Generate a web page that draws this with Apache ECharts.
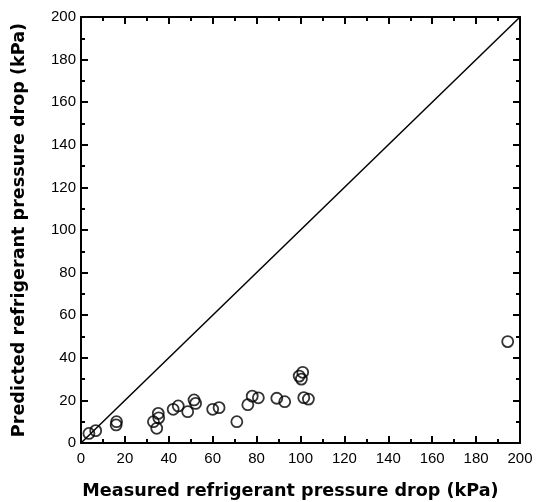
<!DOCTYPE html>
<html>
<head>
<meta charset="utf-8">
<script src="https://cdn.jsdelivr.net/npm/echarts@6/dist/echarts.min.js"></script>
<style>html,body{margin:0;padding:0;background:#fff}#c{width:536px;height:502px}</style>
</head>
<body>
<div id="c"></div>
<script>
var measured = [3.6, 6.7, 16.2, 16.0, 33.0, 34.5, 35.2, 35.4, 42.0, 44.3, 48.6, 51.5, 52.2, 60.0, 62.9, 71.0, 76.0, 78.0, 80.8, 89.2, 92.8, 99.4, 101.0, 100.4, 101.5, 103.6, 194.4];
var predicted = [4.5, 5.8, 10.0, 8.5, 10.0, 6.9, 13.9, 11.8, 15.8, 17.4, 14.7, 20.2, 18.6, 15.8, 16.6, 10.0, 18.0, 22.0, 21.2, 21.0, 19.4, 31.4, 33.2, 30.0, 21.3, 20.6, 47.6];
var xTicks = [0, 20, 40, 60, 80, 100, 120, 140, 160, 180, 200];
var yTicks = [0, 20, 40, 60, 80, 100, 120, 140, 160, 180, 200];
var diagonal = [[0, 0], [200, 200]];
var xTitle = 'Measured refrigerant pressure drop (kPa)';
var yTitle = 'Predicted refrigerant pressure drop (kPa)';

var pts = measured.map(function (m, i) { return [m, predicted[i]]; });
var font = "'Liberation Sans', Arial, sans-serif";
var titleFont = "'DejaVu Sans', sans-serif";

function axisBase(show, pos) {
  return {
    type: 'value', min: xTicks[0], max: xTicks[xTicks.length - 1], interval: 20,
    position: pos,
    axisLine: { show: true, onZero: false, lineStyle: { color: '#000', width: 2 } },
    axisTick: { show: true, inside: true, length: 7, lineStyle: { color: '#000', width: 2 } },
    minorTick: { show: true, splitNumber: 2, length: 4, lineStyle: { color: '#000', width: 2 } },
    splitLine: { show: false },
    axisLabel: { show: show, color: '#000', fontSize: 15, fontFamily: font }
  };
}

var xb = axisBase(true, 'bottom');
xb.axisLabel.margin = 8;
xb.name = xTitle; xb.nameLocation = 'middle'; xb.nameGap = 39;
xb.nameTextStyle = { color: '#000', fontSize: 17.6, fontWeight: 'bold', fontFamily: titleFont, padding: [0, 20, 0, 0] };
var xt = axisBase(false, 'top');
var yl = axisBase(true, 'left');
yl.min = yTicks[0]; yl.max = yTicks[yTicks.length - 1];
yl.axisLabel.margin = 5;
yl.name = yTitle; yl.nameLocation = 'middle'; yl.nameGap = 53;
yl.nameTextStyle = { color: '#000', fontSize: 17.6, fontWeight: 'bold', fontFamily: titleFont };
var yr = axisBase(false, 'right');
yr.min = yTicks[0]; yr.max = yTicks[yTicks.length - 1];

var chart = echarts.init(document.getElementById('c'), null, { renderer: 'canvas' });
chart.setOption({
  animation: false,
  backgroundColor: '#fff',
  grid: { left: 81, right: 16, top: 17, bottom: 59, containLabel: false, outerBoundsMode: 'none' },
  xAxis: [xb, xt],
  yAxis: [yl, yr],
  series: [
    {
      type: 'line', data: diagonal, symbol: 'none', silent: true,
      lineStyle: { color: '#000', width: 1.5 }
    },
    {
      type: 'scatter', data: pts, symbol: 'circle', symbolSize: 11,
      itemStyle: { color: 'rgba(0,0,0,0)', borderColor: '#000', borderWidth: 1.8 }
    }
  ]
});
</script>
</body>
</html>
